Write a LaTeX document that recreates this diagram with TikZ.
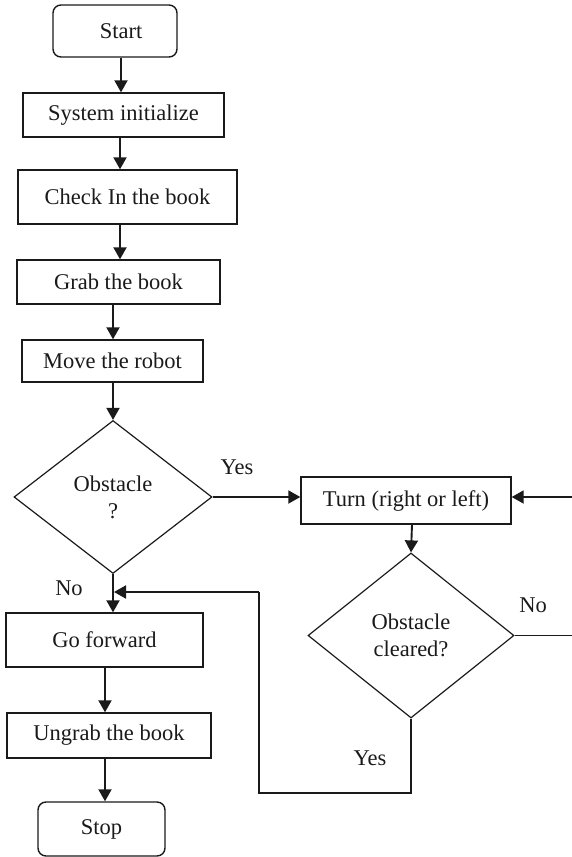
\documentclass[tikz,border=0pt]{standalone}
\usepackage{fontspec}
\setmainfont{Liberation Serif}
\usetikzlibrary{shapes.geometric,arrows.meta}

\definecolor{ink}{HTML}{1A1A1A}

\tikzset{
  every node/.style={font=\fontsize{22.5}{27}\selectfont, text=ink},
  procbox/.style={draw=ink, line width=1.4pt, rectangle, inner sep=0pt, align=center},
  termbox/.style={procbox, rounded corners=8pt},
  decision/.style={draw=ink, line width=1.2pt, diamond, inner sep=0pt, align=center},
  arr/.style={draw=ink, line width=1.9pt, -{Triangle[length=12pt,width=13pt]}},
  thinline/.style={draw=ink, line width=1.3pt},
  lbl/.style={inner sep=0pt}
}

\begin{document}
\begin{tikzpicture}[x=1pt,y=-1pt]
  \useasboundingbox (0,0) rectangle (572,857);

  % main column
  \node[termbox, minimum width=124pt, minimum height=52pt] (start) at (115,31) {\hspace*{12pt}Start};
  \node[procbox, minimum width=201pt, minimum height=44pt] (init) at (123.5,115) {System initialize};
  \node[procbox, minimum width=219pt, minimum height=54pt] (check) at (127.5,197) {Check In the book};
  \node[procbox, minimum width=203pt, minimum height=44pt] (grab) at (118.5,282) {Grab the book};
  \node[procbox, minimum width=181pt, minimum height=42pt] (move) at (112.5,361) {Move the robot};
  \node[decision, minimum width=198pt, minimum height=153pt] (obs) at (113,497) {Obstacle\\?};
  \node[procbox, minimum width=197pt, minimum height=54pt] (fwd) at (104.5,640) {Go forward};
  \node[procbox, minimum width=204pt, minimum height=45pt] (ungrab) at (109,735.5) {Ungrab the book};
  \node[termbox, minimum width=127pt, minimum height=54pt] (stop) at (101.5,829) {Stop};

  % obstacle branch
  \node[procbox, minimum width=210pt, minimum height=47pt] (turn) at (406,500.5) {Turn (right or left)};
  \node[decision, minimum width=206pt, minimum height=165pt] (clr) at (411,635.5) {Obstacle\\cleared?};

  % branch labels
  \node[lbl] (lyes1) at (237,467) {Yes};
  \node[lbl] (lno1) at (69,588) {No};
  \node[lbl] (lno2) at (533,605) {No};
  \node[lbl] (lyes2) at (370,758) {Yes};

  % loose ends and corners of the loops
  \coordinate (edgeNo) at (572,635.5);
  \coordinate (edgeIn) at (572,497);
  \coordinate (loopA) at (411,793);
  \coordinate (loopB) at (259,793);
  \coordinate (loopC) at (259,592);
  \coordinate (join) at (114,592);

  % main flow
  \draw[arr] ([xshift=6pt]start.south) -- ([xshift=6pt]start.south |- init.north);
  \draw[arr] ([xshift=-3.5pt]init.south) -- ([xshift=-3.5pt]init.south |- check.north);
  \draw[arr] ([xshift=-7.5pt]check.south) -- ([xshift=-7.5pt]check.south |- grab.north);
  \draw[arr] ([xshift=-5.5pt]grab.south) -- ([xshift=-5.5pt]grab.south |- move.north);
  \draw[arr] ([xshift=0.5pt]move.south) -- (obs.north);
  \draw[arr] (obs.south) -- (obs.south |- fwd.north);
  \draw[arr] ([xshift=0.5pt]fwd.south) -- ([xshift=0.5pt]fwd.south |- ungrab.north);
  \draw[arr] ([xshift=-4pt]ungrab.south) -- ([xshift=-4pt]ungrab.south |- stop.north);

  % obstacle handling
  \draw[arr] (obs.east) -- (obs.east -| turn.west);
  \draw[arr] ([xshift=6pt]turn.south) -- (clr.north);
  \draw[thinline] (clr.east) -- (edgeNo);
  \draw[arr] (edgeIn) -- (edgeIn -| turn.east);
  \draw[thinline] (clr.south) -- (loopA) -- (loopB) -- (loopC);
  \draw[arr] (loopC) -- (join);
\end{tikzpicture}
\end{document}
